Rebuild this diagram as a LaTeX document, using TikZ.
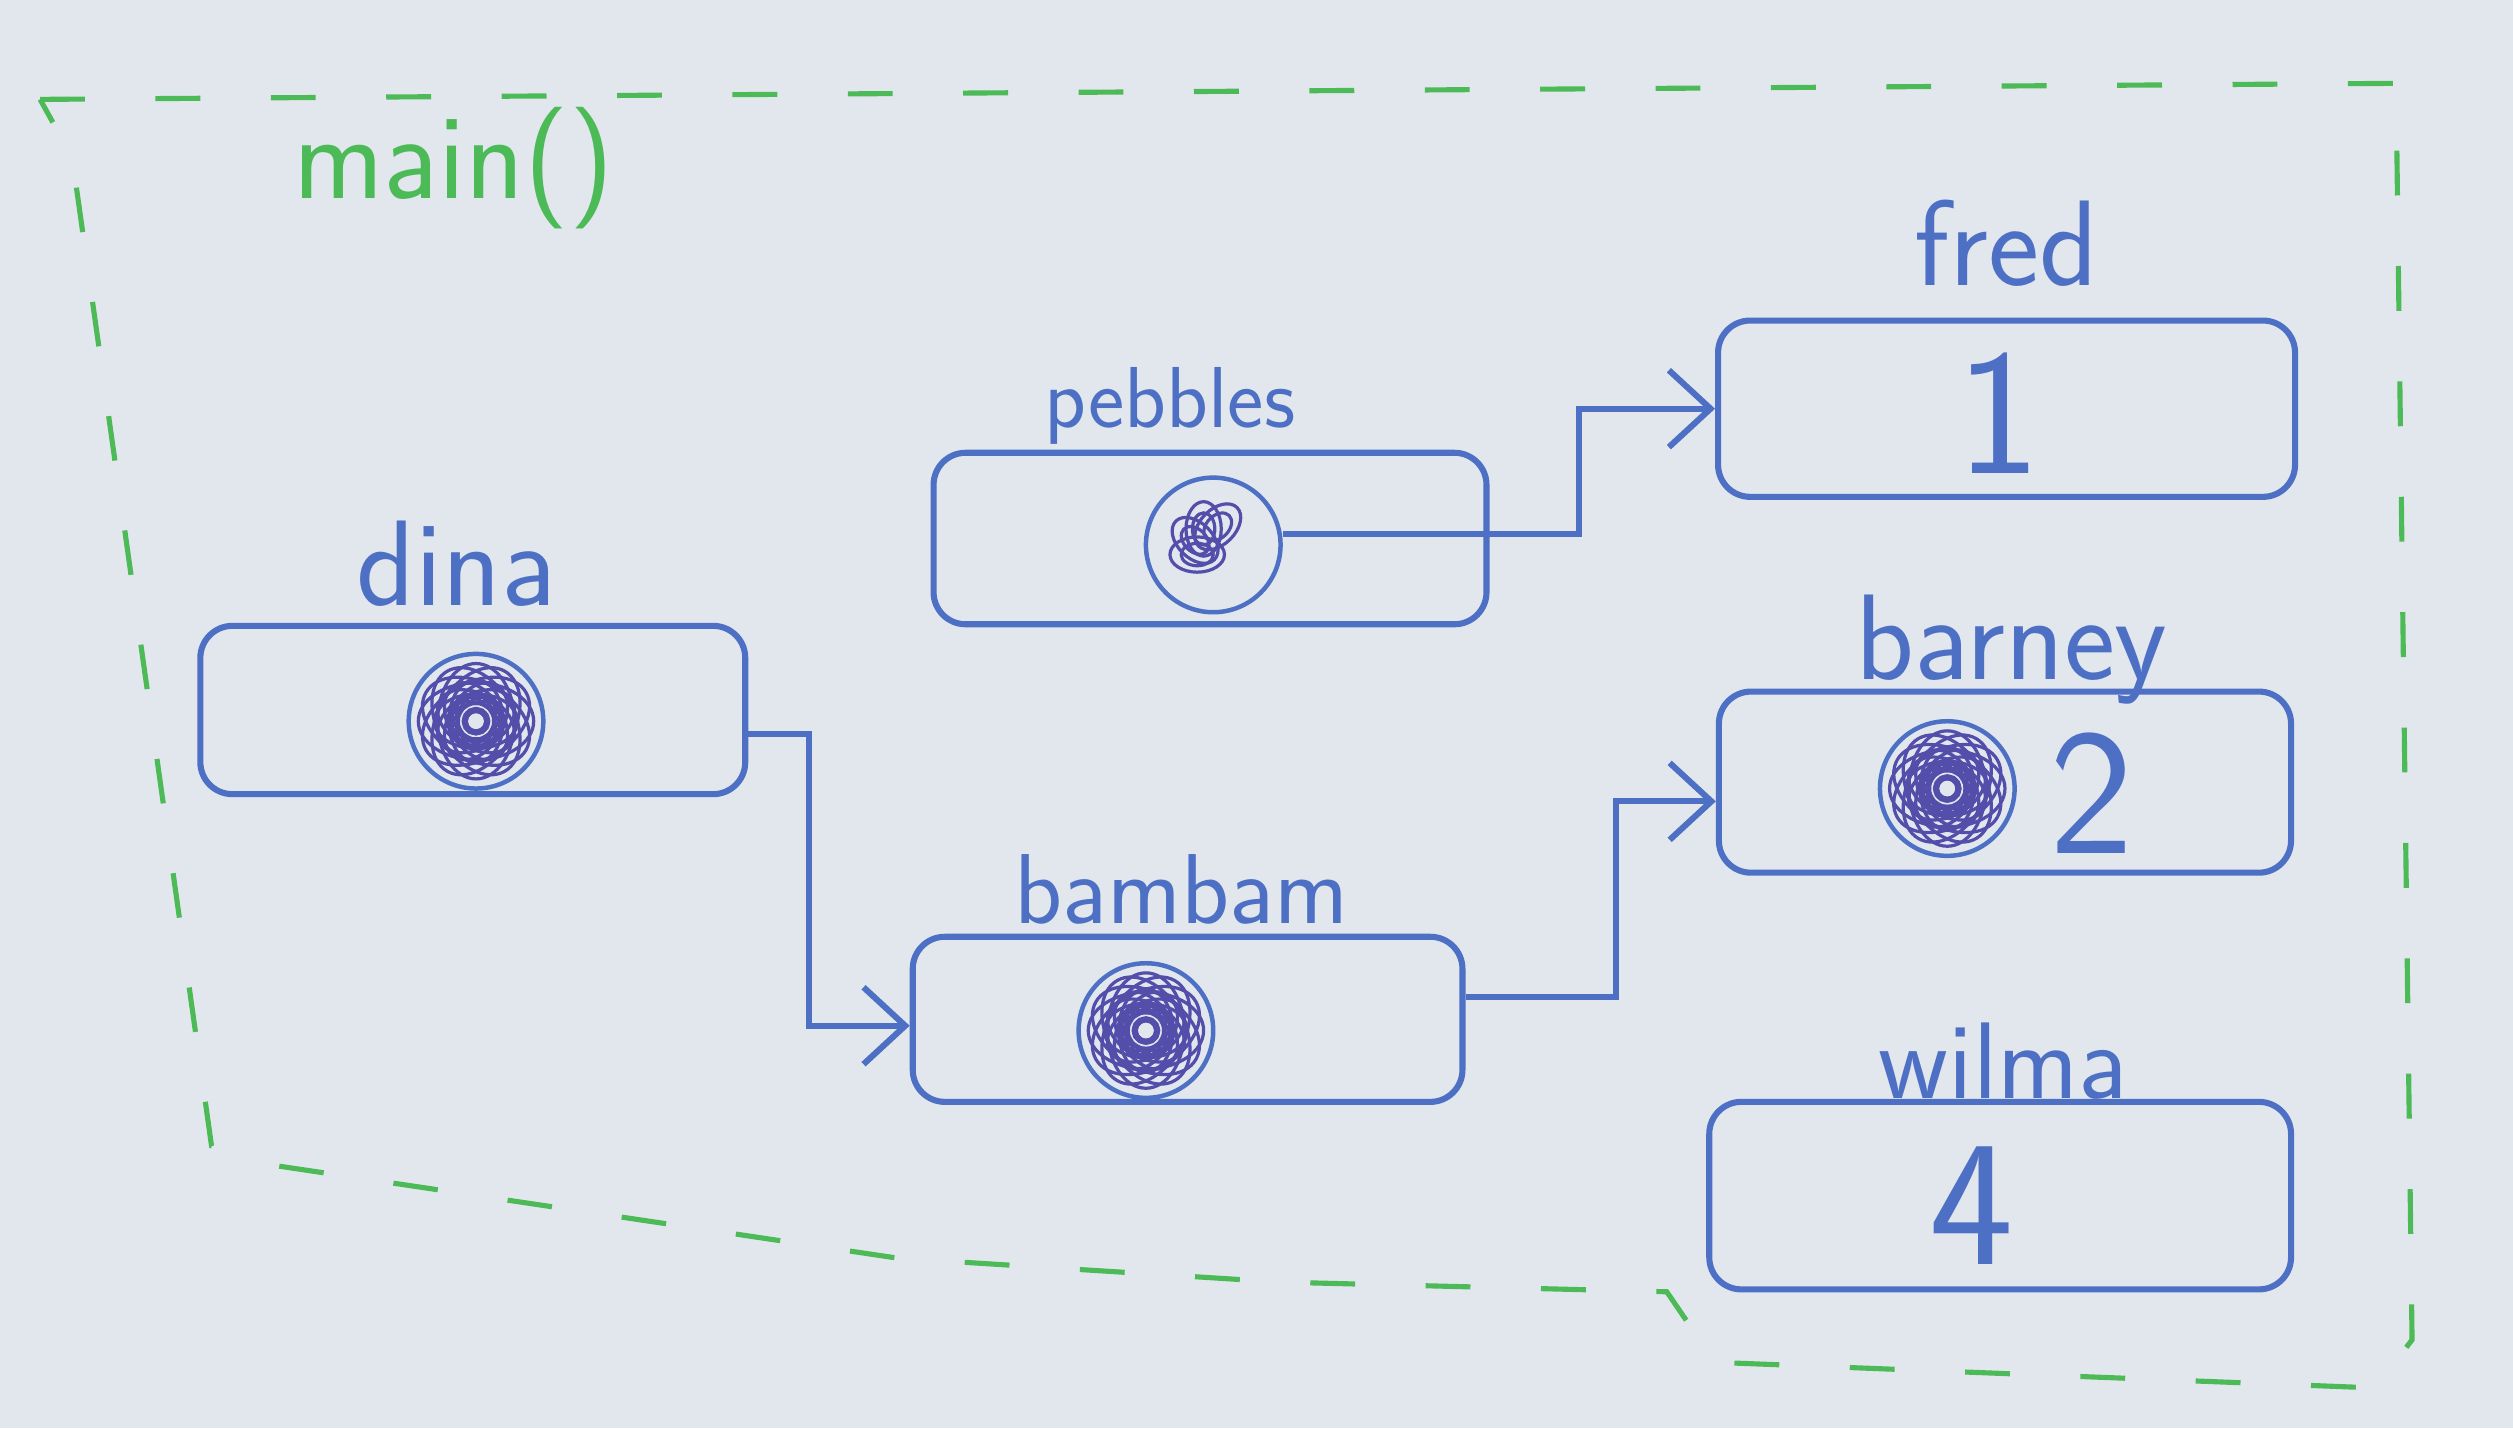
\documentclass[tikz,border=0pt]{standalone}
\usepackage{xcolor}
\usepackage{tikz}
\usetikzlibrary{arrows.meta,positioning}

\definecolor{ink}{RGB}{78,112,196}
\definecolor{inkdark}{RGB}{82,78,170}
\definecolor{marker}{RGB}{76,186,86}
\definecolor{paper}{RGB}{226,231,238}

\begin{document}
\begin{tikzpicture}[x=0.5pt,y=0.5pt,yscale=-1,
  box/.style={draw=ink,line width=1.9pt,rounded corners=10pt,inner sep=0pt},
  ptr/.style={circle,draw=ink,line width=1.4pt,minimum size=42pt,inner sep=0pt},
  scrib/.style={draw=inkdark,line width=1pt},
  lbl/.style={text=ink,font=\sffamily\fontsize{38}{44}\selectfont,inner sep=0pt},
  val/.style={text=ink,font=\sffamily\fontsize{56}{64}\selectfont,inner sep=0pt},
  arr/.style={draw=ink,line width=1.9pt,-{Straight Barb[length=13pt,width=24pt,line width=1.9pt]}},
  frame/.style={draw=marker,line width=1.6pt,dash pattern=on 14pt off 22pt}]
%set diagram size to the photo
\useasboundingbox (0,0) rectangle (1568,891);
\fill[paper] (0,0) rectangle (1568,891);

%Shape: dashed frame of main()
\draw[frame] (25,62) -- (1495,52) -- (1505,836) -- (1482,866) -- (1070,850) -- (1040,806) -- (800,800) -- (560,785) -- (170,727) -- (132,715) -- (45,98) -- cycle;
% Text Node
\node[lbl,text=marker] (main) at (283,105) {main()};

%Shape: dina
\node[box,minimum width=170pt,minimum height=52.5pt] (dina) at (295,443) {};
\node[lbl] (ldina) at (285,352) {dina};
\node[ptr] (dptr) at (297,450) {};

%Shape: pebbles
\node[box,minimum width=172.5pt,minimum height=53.5pt] (pebbles) at (755,336) {};
\node[lbl,font=\sffamily\fontsize{27}{32}\selectfont] (lpebbles) at (730,253) {pebbles};
\node[ptr] (pptr) at (757,340) {};

%Shape: bambam
\node[box,minimum width=171.5pt,minimum height=51.5pt] (bambam) at (741,636) {};
\node[lbl,font=\sffamily\fontsize{31}{36}\selectfont] (lbambam) at (737,555) {bambam};
\node[ptr] (bptr) at (715,643) {};

%Shape: fred
\node[box,minimum width=180pt,minimum height=55pt] (fred) at (1252,255) {};
\node[lbl] (lfred) at (1252,152) {fred};
\node[val] (vfred) at (1247,258) {1};

%Shape: barney
\node[box,minimum width=178.5pt,minimum height=56.5pt] (barney) at (1251,488) {};
\node[lbl] (lbarney) at (1255,405) {barney};
\node[ptr] (brptr) at (1215,492) {};
\node[val] (vbarney) at (1305,495) {2};

%Shape: wilma
\node[box,minimum width=181.5pt,minimum height=58.5pt] (wilma) at (1248,746) {};
\node[lbl,font=\sffamily\fontsize{34}{40}\selectfont] (lwilma) at (1250,662) {wilma};
\node[val] (vwilma) at (1230,752) {4};

%scribbles inside the pointers
\foreach \p in {dptr,bptr,brptr}
  \foreach \a in {0,30,...,150}
    \foreach \rx/\ry in {36/24,26/17,16/11,8/6}
      \draw[scrib,rotate=\a] (\p.center) ellipse [x radius=\rx, y radius=\ry];
\foreach \a in {0,45,90,135}
  \foreach \rx/\ry in {17/11,10/7}
    \draw[scrib,rotate=\a] ([xshift=-5pt,yshift=3pt]pptr.center) ellipse [x radius=\rx, y radius=\ry];

%Straight Lines
\draw[arr] ([yshift=-3.5pt]pptr.east) -- ++(185,0) |- (fred.west);
\draw[arr] ([yshift=7.5pt]dina.east) -- ++(38,0) |- ([yshift=2pt]bambam.west);
\draw[arr] ([yshift=-7pt]bambam.east) -- ++(94,0) |- ([yshift=6pt]barney.west);

\end{tikzpicture}
\end{document}
